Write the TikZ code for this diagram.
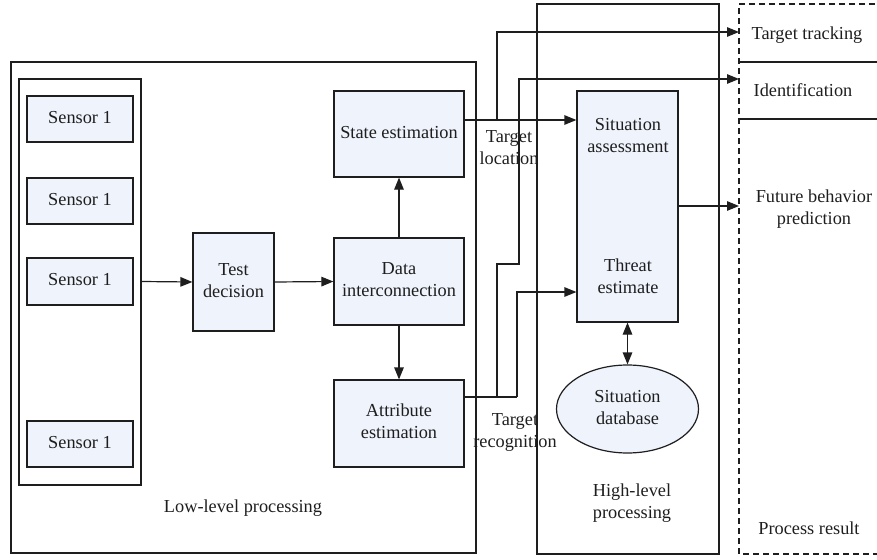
\documentclass[tikz,border=0pt]{standalone}
\usepackage{fontspec}
\setmainfont{Liberation Serif}
\usetikzlibrary{arrows.meta,shapes.geometric}
\definecolor{boxfill}{RGB}{239,243,252}
\definecolor{ink}{RGB}{30,30,30}
% two centred lines, 22pt apart
\newcommand\twoln[2]{\vbox{\halign{\hfil##\hfil\cr#1\cr#2\cr}}}
\begin{document}
\begin{tikzpicture}[x=1pt,y=-1pt,
  every node/.style={font=\fontsize{18.3}{22}\selectfont, text=ink},
  line width=1.2pt, draw=ink,
  % fixed text box sizes: one line has its baseline at centre+4pt,
  % two lines have theirs at centre-7pt and centre+15pt
  one/.style={text height=14pt, text depth=6pt},
  two/.style={text height=40pt, text depth=10pt},
  frame/.style={draw=ink, line width=1.2pt, inner sep=0pt},
  box/.style={draw=ink, fill=boxfill, line width=1.2pt, inner sep=0pt},
  lbl/.style={inner sep=0pt},
  arr/.style={-{Triangle[length=12pt,width=9.5pt]}},
  darr/.style={{Triangle[length=12pt,width=9.5pt]}-{Triangle[length=12pt,width=9.5pt]}}]
\useasboundingbox (0,0) rectangle (877,559);

% processing frames
\node[frame, minimum width=465pt, minimum height=491pt] (low) at (243.5,307.5) {};
\node[frame, minimum width=122pt, minimum height=406pt] (sens) at (80,282) {};
\node[frame, minimum width=182pt, minimum height=550pt] (high) at (628,279) {};

% result column (open on the right)
\draw[dashed, dash pattern=on 6pt off 4pt] (885,4) -| (739,554) -- (885,554);
\draw (739,62) -- (885,62);
\draw (739,119) -- (885,119);
\coordinate (track) at (739,32);
\coordinate (ident) at (739,79);
\coordinate (res) at (739,206);

% sensors
\node[box, one, minimum width=106pt, minimum height=46pt] (s1) at (80,119) {Sensor 1};
\node[box, one, minimum width=106pt, minimum height=46pt] (s2) at (80,201) {Sensor 1};
\node[box, one, minimum width=106pt, minimum height=47pt] (s3) at (80,281.5) {Sensor 1};
\node[box, one, minimum width=106pt, minimum height=46pt] (s4) at (80,444) {Sensor 1};

% low-level blocks
\node[box, two, minimum width=81pt, minimum height=98pt] (test) at (233.5,282) {\twoln{Test}{decision}};
\node[box, two, minimum width=130pt, minimum height=87pt] (data) at (399,281.5) {\twoln{Data}{interconnection}};
\node[box, one, minimum width=130pt, minimum height=86pt] (state) at (399,134) {State estimation};
\node[box, two, minimum width=130pt, minimum height=87pt] (attr) at (399,423.5) {\twoln{Attribute}{estimation}};

% high-level blocks
\node[box, minimum width=101pt, minimum height=231pt] (sit) at (627.5,206.5) {};
\node[lbl, two] (sitA) at (628,137) {\twoln{Situation}{assessment}};
\node[lbl, two] (sitT) at (628,278) {\twoln{Threat}{estimate}};
\node[box, two, ellipse, minimum width=142pt, minimum height=88pt] (db) at (627.5,409) {\twoln{Situation}{database}};

% labels
\node[lbl, one] (lowlbl) at (243,508) {Low-level processing};
\node[lbl, two] (highlbl) at (632,503) {\twoln{High-level}{processing}};
\node[lbl, one] (reslbl) at (809,530) {Process result};
\node[lbl, one] (tracklbl) at (807,36) {Target tracking};
\node[lbl, one] (identlbl) at (803,93) {Identification};
\node[lbl, two] (futlbl) at (814,209) {\twoln{Future behavior}{prediction}};
\node[lbl, two] (loclbl) at (509,149) {\twoln{Target}{location}};
\node[lbl, two] (reclbl) at (515,432) {\twoln{Target}{recognition}};

% junction points of the routed connectors
\coordinate (j1) at (497,120);
\coordinate (j2) at (497,397);
\coordinate (j3) at (517,397);
\coordinate (k1) at (497,264);
\coordinate (k2) at (519,264);
\coordinate (thr) at (577,292);

% connectors
\draw[arr] (sens.east |- s3) -- (test.west);
\draw[arr] (test.east) -- (data.west);
\draw[arr] (data.north) -- (state.south);
\draw[arr] (data.south) -- (attr.north);
\draw[arr] (state.east |- j1) -- (sit.west |- j1);
\draw[arr] (j1) |- (track);
\draw (attr.east |- j2) -- (j3);
\draw[arr] (j3) |- (sit.west |- thr);
\draw[arr] (j2) -- (k1) -- (k2) |- (ident);
\draw[arr] (sit.east |- res) -- (res);
\draw[darr] (sit.south) -- (db.north);
\end{tikzpicture}
\end{document}
